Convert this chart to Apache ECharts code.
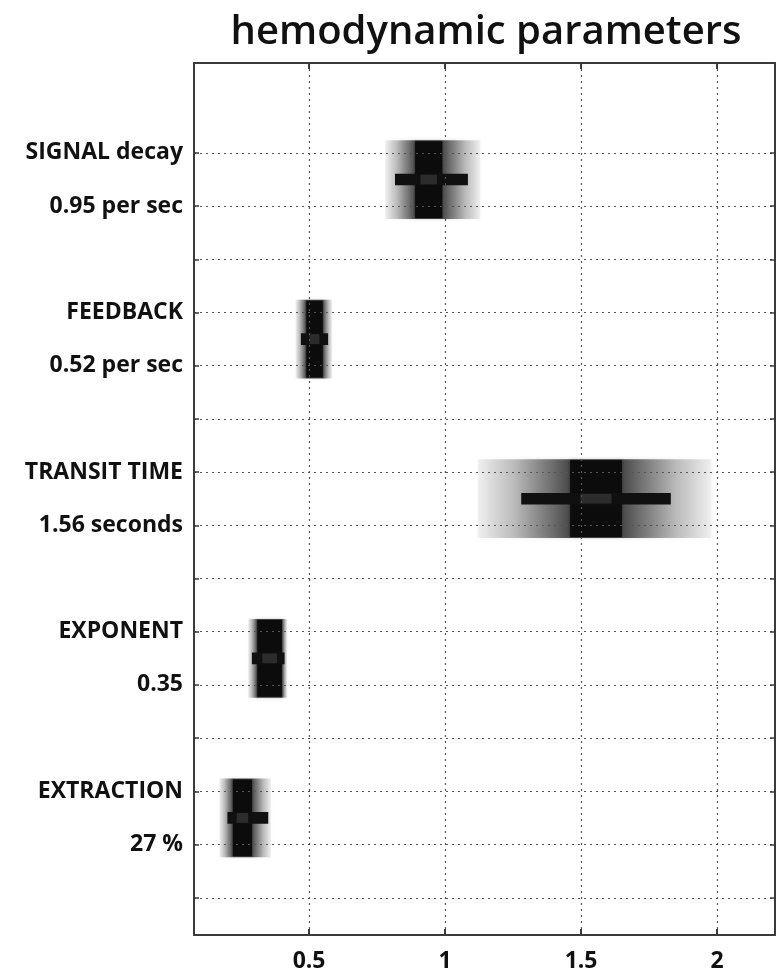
<!DOCTYPE html>
<html>
<head>
<meta charset="utf-8">
<script src="https://cdn.jsdelivr.net/npm/echarts@6/dist/echarts.min.js"></script>
<style>
  html, body { margin: 0; padding: 0; background: #fff; }
  #chart { width: 776px; height: 974px; }
</style>
</head>
<body>
<div id="chart"></div>
<script>
// Estimated hemodynamic parameters, listed top to bottom
const names = ['SIGNAL decay', 'FEEDBACK', 'TRANSIT TIME', 'EXPONENT', 'EXTRACTION'];
const estimateLabels = ['0.95 per sec', '0.52 per sec', '1.56 seconds', '0.35', '27 %'];
const estimates   = [0.95, 0.52, 1.56, 0.35, 0.27];
// horizontal bar extent (interval around the estimate)
const whiskerLow  = [0.816, 0.47, 1.28, 0.29, 0.20];
const whiskerHigh = [1.084, 0.57, 1.83, 0.41, 0.35];
// dark central band
const coreLow     = [0.89, 0.49, 1.46, 0.31, 0.22];
const coreHigh    = [0.99, 0.55, 1.65, 0.40, 0.29];
// faint grey spread
const spreadLow   = [0.78, 0.45, 1.12, 0.276, 0.17];
const spreadHigh  = [1.13, 0.585, 1.98, 0.42, 0.36];

const xTicks = [0.5, 1, 1.5, 2];
// row slots on the vertical axis: each parameter uses three slots
const yGridSlots = [1, 2, 3, 4, 5, 6, 7, 8, 9, 10, 11, 12, 13, 14, 15];

// label slots: name on the first slot, value on the second
const yLabelMap = {};
names.forEach((n, i) => {
  yLabelMap[3 * i + 1] = n;
  yLabelMap[3 * i + 2] = estimateLabels[i];
});
const yLabelSlots = Object.keys(yLabelMap).map(Number);

const rows = names.map((n, i) => [
  3 * i + 1.5, estimates[i], whiskerLow[i], whiskerHigh[i],
  coreLow[i], coreHigh[i], spreadLow[i], spreadHigh[i]
]);

const FONT = '"Open Sans", "DejaVu Sans", sans-serif';
const AX = '#3a3a3a';

const chart = echarts.init(document.getElementById('chart'), null, { renderer: 'canvas' });

function renderItem(params, api) {
  const yc = api.value(0);
  const step = api.size([0, 1])[1];
  const halfH = step * 0.74;
  const barHalf = step * 0.11;
  const cy = api.coord([0, yc])[1];
  const xOf = v => api.coord([v, yc])[0];

  const sL = xOf(api.value(6)), sH = xOf(api.value(7));
  const cL = xOf(api.value(4)), cH = xOf(api.value(5));
  const wL = xOf(api.value(2)), wH = xOf(api.value(3));
  const span = sH - sL;
  const a = (cL - sL) / span, b = (cH - sL) / span;

  const grad = new echarts.graphic.LinearGradient(0, 0, 1, 0, [
    { offset: 0, color: 'rgba(0,0,0,0.05)' },
    { offset: a * 0.4, color: 'rgba(0,0,0,0.24)' },
    { offset: a * 0.8, color: 'rgba(0,0,0,0.52)' },
    { offset: a, color: 'rgba(0,0,0,0.68)' },
    { offset: b, color: 'rgba(0,0,0,0.68)' },
    { offset: b + (1 - b) * 0.2, color: 'rgba(0,0,0,0.52)' },
    { offset: b + (1 - b) * 0.6, color: 'rgba(0,0,0,0.24)' },
    { offset: 1, color: 'rgba(0,0,0,0.05)' }
  ]);

  return {
    type: 'group',
    children: [
      {
        type: 'rect',
        shape: { x: sL, y: cy - halfH, width: span, height: 2 * halfH },
        style: { fill: grad, shadowBlur: 4, shadowColor: 'rgba(0,0,0,0.18)' }
      },
      {
        type: 'rect',
        shape: { x: cL, y: cy - halfH + 1, width: cH - cL, height: 2 * halfH - 2 },
        style: { fill: '#0c0c0c', shadowBlur: 2, shadowColor: 'rgba(0,0,0,0.5)' }
      },
      {
        type: 'rect',
        shape: { x: wL, y: cy - barHalf, width: wH - wL, height: 2 * barHalf },
        style: { fill: '#101010' }
      },
      {
        type: 'rect',
        shape: { x: cL + (cH - cL) * 0.2, y: cy - barHalf + 1, width: (cH - cL) * 0.6, height: 2 * barHalf - 2 },
        style: { fill: 'rgba(80,80,80,0.45)' }
      }
    ]
  };
}

const xCommon = {
  type: 'value', min: 0.077, max: 2.213,
  axisLine: { show: true, onZero: false, lineStyle: { color: AX, width: 2 } },
  axisTick: { show: true, inside: true, length: 6, customValues: xTicks, lineStyle: { color: AX, width: 2 } }
};
const yCommon = {
  type: 'value', inverse: true, min: -0.69, max: 15.7,
  axisLine: { show: true, onZero: false, lineStyle: { color: AX, width: 2 } },
  axisTick: { show: true, inside: true, length: 5, customValues: yGridSlots, lineStyle: { color: AX, width: 1.5 } }
};

chart.setOption({
  animation: false,
  backgroundColor: '#fff',
  grid: { left: 194, right: 1, top: 63, bottom: 39, containLabel: false },
  graphic: [{
    type: 'text', x: 486, y: 33,
    style: {
      text: 'hemodynamic parameters', fill: '#111',
      font: '600 40px ' + FONT, textAlign: 'center', textVerticalAlign: 'middle'
    }
  }],
  xAxis: [
    Object.assign({}, xCommon, {
      position: 'bottom',
      axisLabel: {
        customValues: xTicks, formatter: v => String(v), margin: 15,
        color: '#111', fontSize: 23, fontWeight: 'bold', fontFamily: FONT
      },
      splitLine: { show: true, lineStyle: { color: '#555', width: 1.2, type: [2, 4] } }
    }),
    Object.assign({}, xCommon, {
      position: 'top', axisLabel: { show: false }, splitLine: { show: false }
    })
  ],
  yAxis: [
    Object.assign({}, yCommon, {
      position: 'left',
      axisLabel: {
        customValues: yLabelSlots, formatter: v => yLabelMap[v] || '', margin: 11,
        color: '#111', fontSize: 23, fontWeight: 'bold', fontFamily: FONT
      },
      splitLine: { show: true, lineStyle: { color: '#555', width: 1.2, type: [2, 4] } }
    }),
    Object.assign({}, yCommon, {
      position: 'right', axisLabel: { show: false }, splitLine: { show: false }
    })
  ],
  series: [{
    type: 'custom',
    z: -1,
    xAxisIndex: 0, yAxisIndex: 0,
    renderItem: renderItem,
    encode: { x: [1, 2, 3, 4, 5, 6, 7], y: 0 },
    data: rows,
    clip: false
  }]
});
</script>
</body>
</html>
